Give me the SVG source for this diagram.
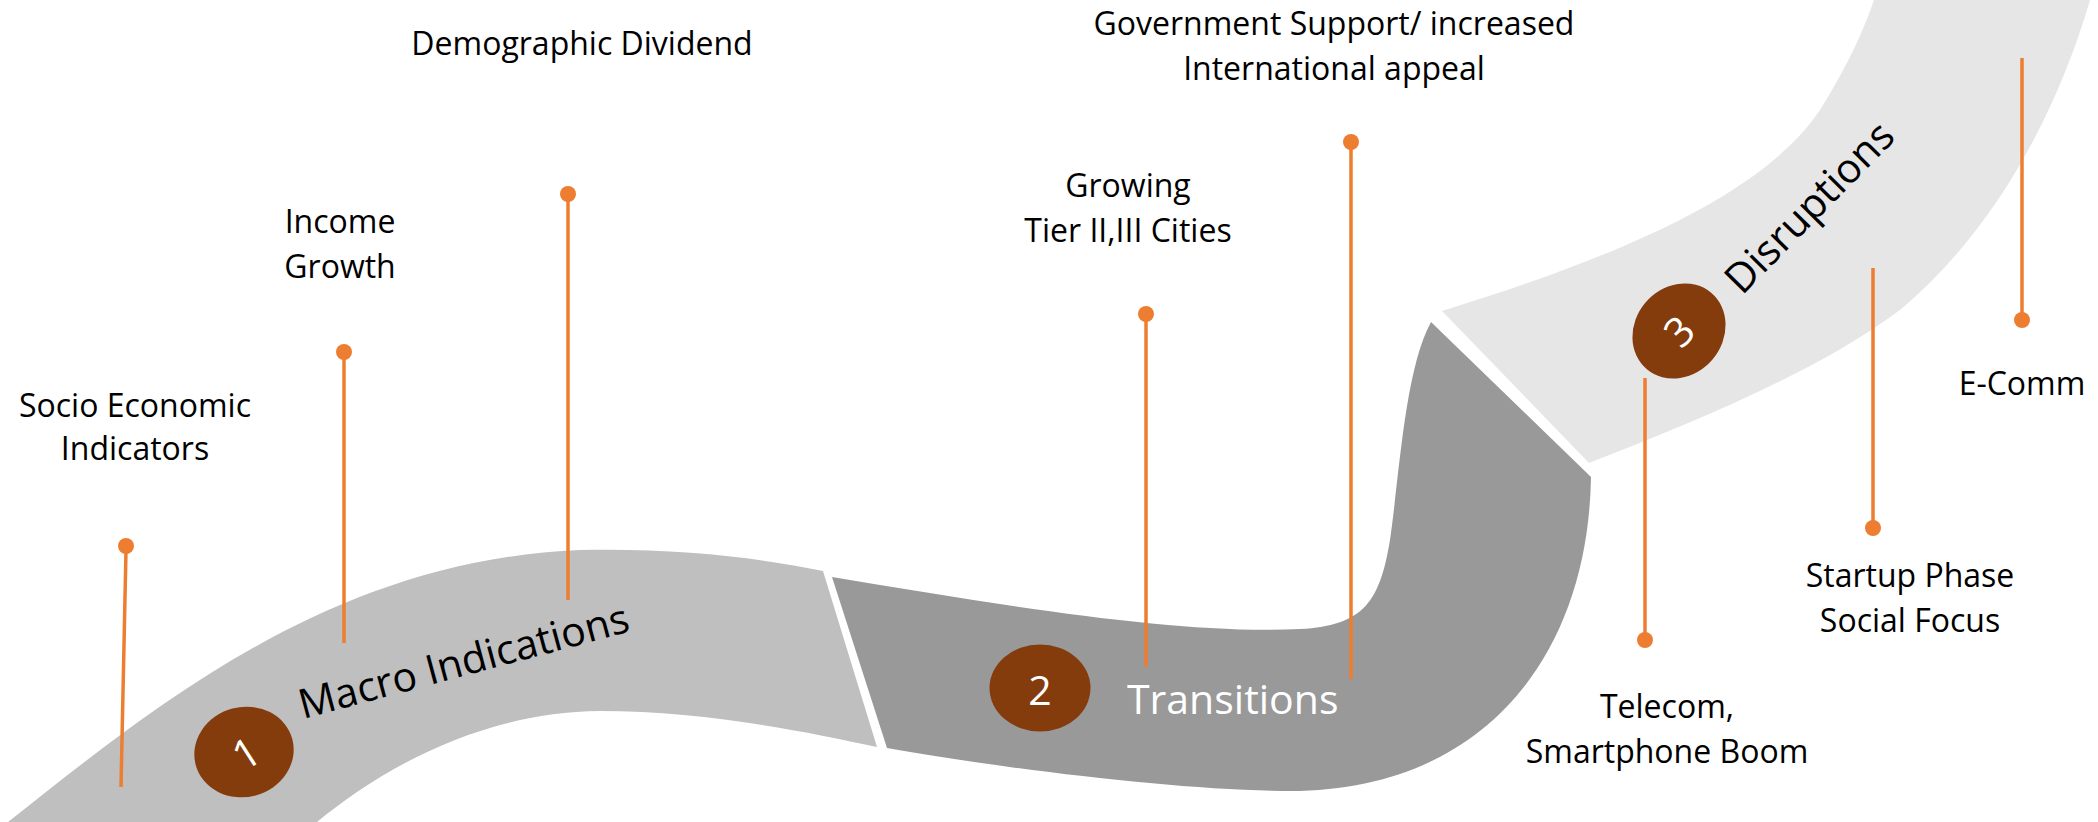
<svg xmlns="http://www.w3.org/2000/svg" width="2098" height="822" viewBox="0 0 2098 822">
  <style>
    .lbl { font-family: "Open Sans", "Noto Sans", "Liberation Sans", sans-serif; font-size: 32px; fill: #000000; text-anchor: middle; }
    .title { font-family: "Open Sans", "Noto Sans", "Liberation Sans", sans-serif; font-size: 41px; }
    .num { font-family: "Open Sans", "Noto Sans", "Liberation Sans", sans-serif; font-size: 41px; fill: #ffffff; text-anchor: middle; }
    .badge { fill: #843C0C; }
    .pin { stroke: #ED7D31; stroke-width: 3.5; fill: none; }
    .dot { fill: #ED7D31; }
  </style>
  <rect width="2098" height="822" fill="#ffffff"/>

  <g id="stage1">
    <path d="M 8,822 C 150,710 330,560 580,550 C 680,548 760,558 823,571 L 877,747 C 800,730 700,711 600,711 C 480,712 380,770 317,822 Z" fill="#BFBFBF"/>
    <ellipse class="badge" cx="0" cy="0" rx="50" ry="45" transform="translate(244,752) rotate(-15)"/>
    <text class="num" x="0" y="15" transform="translate(246,753) rotate(-33)">1</text>
    <text class="title" x="0" y="0" fill="#000000" transform="translate(303,719) rotate(-15)">Macro Indications</text>
  </g>

  <g id="stage2">
    <path d="M 832,577 C 1000,605 1180,635 1300,629 C 1365,626 1380,600 1390,540 C 1400,470 1405,370 1431,322 L 1591,477 C 1588,660 1480,791 1290,791 C 1180,791 1000,768 887,748 Z" fill="#999999"/>
    <ellipse class="badge" cx="1040" cy="688" rx="50.5" ry="43.5"/>
    <text class="num" x="1040" y="705">2</text>
    <text class="title" x="1127" y="714" fill="#ffffff">Transitions</text>
  </g>

  <g id="stage3">
    <path d="M 1442,311 C 1600,262 1760,200 1820,110 C 1845,70 1862,35 1874,0 L 2090,0 C 2055,120 1990,235 1900,310 C 1820,370 1700,420 1589,463 Z" fill="#E6E6E6"/>
    <ellipse class="badge" cx="0" cy="0" rx="50" ry="44" transform="translate(1679,331) rotate(-50)"/>
    <text class="num" x="0" y="15" transform="translate(1679,331) rotate(-45)">3</text>
    <text class="title" x="0" y="0" fill="#000000" transform="translate(1742,296) rotate(-45.5)">Disruptions</text>
  </g>

  <g id="connectors">
    <line class="pin" x1="126" y1="550" x2="121" y2="787"/>
    <circle class="dot" cx="126" cy="546" r="8"/>
    <line class="pin" x1="344" y1="352" x2="344" y2="643"/>
    <circle class="dot" cx="344" cy="352" r="8"/>
    <line class="pin" x1="568" y1="194" x2="568" y2="600"/>
    <circle class="dot" cx="568" cy="194" r="8"/>
    <line class="pin" x1="1146" y1="314" x2="1146" y2="667"/>
    <circle class="dot" cx="1146" cy="314" r="8"/>
    <line class="pin" x1="1351" y1="142" x2="1351" y2="679"/>
    <circle class="dot" cx="1351" cy="142" r="8"/>
    <line class="pin" x1="1645" y1="378" x2="1645" y2="640"/>
    <circle class="dot" cx="1645" cy="640" r="8"/>
    <line class="pin" x1="1873" y1="268" x2="1873" y2="528"/>
    <circle class="dot" cx="1873" cy="528" r="8"/>
    <line class="pin" x1="2022" y1="58" x2="2022" y2="320"/>
    <circle class="dot" cx="2022" cy="320" r="8"/>
  </g>

  <g id="label-socio"><text class="lbl" x="135" y="417">Socio Economic</text><text class="lbl" x="135" y="460">Indicators</text></g>
  <g id="label-income"><text class="lbl" x="340" y="233">Income</text><text class="lbl" x="340" y="278">Growth</text></g>
  <g id="label-demographic"><text class="lbl" x="582" y="55">Demographic Dividend</text></g>
  <g id="label-growing"><text class="lbl" x="1128" y="197">Growing</text><text class="lbl" x="1128" y="242">Tier II,III Cities</text></g>
  <g id="label-government"><text class="lbl" x="1334" y="35">Government Support/ increased</text><text class="lbl" x="1334" y="80">International appeal</text></g>
  <g id="label-telecom"><text class="lbl" x="1667" y="718">Telecom,</text><text class="lbl" x="1667" y="763">Smartphone Boom</text></g>
  <g id="label-startup"><text class="lbl" x="1910" y="587">Startup Phase</text><text class="lbl" x="1910" y="632">Social Focus</text></g>
  <g id="label-ecomm"><text class="lbl" x="2022" y="395">E-Comm</text></g>
</svg>
